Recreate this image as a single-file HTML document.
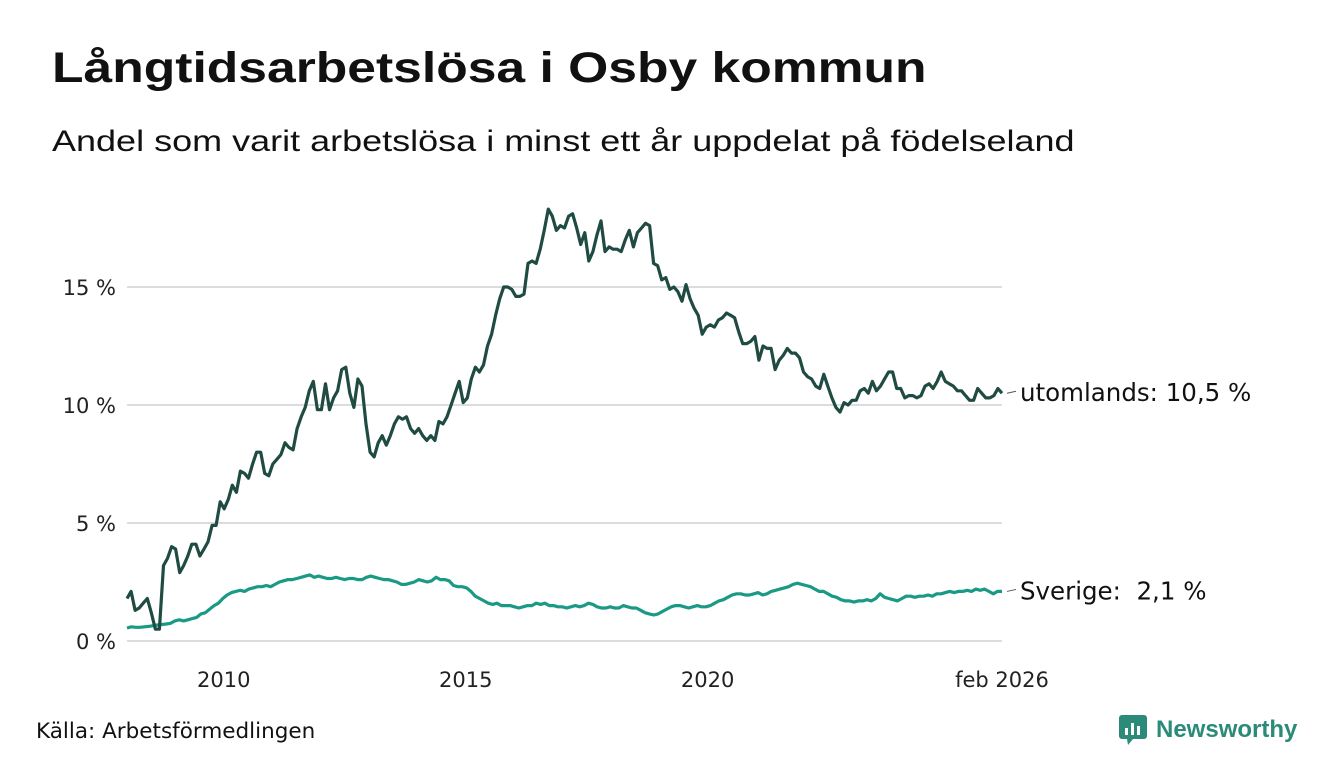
<!DOCTYPE html>
<html><head><meta charset="utf-8"><style>
body{margin:0;background:#fff;font-family:"Liberation Sans","DejaVu Sans",sans-serif;}
#wrap{position:relative;width:1340px;height:780px;overflow:hidden;}
h1{position:absolute;left:52px;top:44px;margin:0;font-size:43px;font-weight:bold;color:#111;transform:scaleX(1.2);transform-origin:left top;white-space:nowrap;}
.sub{position:absolute;left:52px;top:125px;font-size:30px;color:#111;transform:scaleX(1.2);transform-origin:left top;white-space:nowrap;}
.src{position:absolute;left:36px;top:719px;font-size:21.5px;color:#111;font-family:"DejaVu Sans",sans-serif;}
.logo{position:absolute;left:1118px;top:714px;display:flex;align-items:center;}
.logo span{font-size:24px;font-weight:bold;color:#2b8a78;margin-left:8px;}
svg text{font-family:"DejaVu Sans",sans-serif;}
</style></head><body>
<div id="wrap">
<h1>Långtidsarbetslösa i Osby kommun</h1>
<div class="sub">Andel som varit arbetslösa i minst ett år uppdelat på födelseland</div>
<svg id="chart" width="1340" height="780" style="position:absolute;left:0;top:0"></svg>
<div class="src">Källa: Arbetsförmedlingen</div>
<div class="logo">
<svg width="30" height="32" viewBox="0 0 30 32"><rect x="1" y="1" width="28" height="24" rx="3" fill="#2b8a78"/><polygon points="9,25 15,25 10,31" fill="#2b8a78"/><rect x="7" y="14" width="3" height="7" fill="#fff"/><rect x="13" y="9" width="3" height="12" fill="#fff"/><rect x="19" y="12" width="3" height="9" fill="#fff"/></svg>
<span>Newsworthy</span></div>
</div>
<script>
const yTicks=[0,5,10,15];
const xTickYears=[2010,2015,2020];
const xTickLabels=["2010","2015","2020"];
const startYear=2008.0, endYear=2026.083;
const utomlands=[1.8,2.1,1.3,1.4,1.6,1.8,1.2,0.5,0.5,3.2,3.5,4.0,3.9,2.9,3.2,3.6,4.1,4.1,3.6,3.9,4.2,4.9,4.9,5.9,5.6,6.0,6.6,6.3,7.2,7.1,6.9,7.5,8.0,8.0,7.1,7.0,7.5,7.7,7.9,8.4,8.2,8.1,9.0,9.5,9.9,10.6,11.0,9.8,9.8,10.9,9.8,10.3,10.6,11.5,11.6,10.5,9.9,11.1,10.8,9.2,8.0,7.8,8.4,8.7,8.3,8.7,9.2,9.5,9.4,9.5,9.0,8.8,9.0,8.7,8.5,8.7,8.5,9.3,9.2,9.5,10.0,10.5,11.0,10.1,10.3,11.1,11.6,11.4,11.7,12.5,13.0,13.8,14.5,15.0,15.0,14.9,14.6,14.6,14.7,16.0,16.1,16.0,16.6,17.4,18.3,18.0,17.4,17.6,17.5,18.0,18.1,17.5,16.8,17.3,16.1,16.5,17.2,17.8,16.5,16.7,16.6,16.6,16.5,17.0,17.4,16.7,17.3,17.5,17.7,17.6,16.0,15.9,15.3,15.4,14.9,15.0,14.8,14.4,15.1,14.5,14.1,13.8,13.0,13.3,13.4,13.3,13.6,13.7,13.9,13.8,13.7,13.1,12.6,12.6,12.7,12.9,11.9,12.5,12.4,12.4,11.5,11.9,12.1,12.4,12.2,12.2,12.0,11.4,11.2,11.1,10.8,10.7,11.3,10.8,10.3,9.9,9.7,10.1,10.0,10.2,10.2,10.6,10.7,10.5,11.0,10.6,10.8,11.1,11.4,11.4,10.7,10.7,10.3,10.4,10.4,10.3,10.4,10.8,10.9,10.7,11.0,11.4,11.0,10.9,10.8,10.6,10.6,10.4,10.2,10.2,10.7,10.5,10.3,10.3,10.4,10.7,10.5];
const sverige=[0.55,0.6,0.58,0.58,0.6,0.62,0.65,0.68,0.7,0.72,0.75,0.85,0.9,0.85,0.9,0.95,1.0,1.15,1.2,1.35,1.5,1.6,1.8,1.95,2.05,2.1,2.15,2.1,2.2,2.25,2.3,2.3,2.35,2.3,2.4,2.5,2.55,2.6,2.6,2.65,2.7,2.75,2.8,2.7,2.75,2.7,2.65,2.65,2.7,2.65,2.6,2.65,2.65,2.6,2.6,2.7,2.75,2.7,2.65,2.6,2.6,2.55,2.5,2.4,2.4,2.45,2.5,2.6,2.55,2.5,2.55,2.7,2.6,2.6,2.55,2.35,2.3,2.3,2.25,2.1,1.9,1.8,1.7,1.6,1.55,1.6,1.5,1.5,1.5,1.45,1.4,1.45,1.5,1.5,1.6,1.55,1.6,1.5,1.5,1.45,1.45,1.4,1.45,1.5,1.45,1.5,1.6,1.55,1.45,1.4,1.4,1.45,1.4,1.4,1.5,1.45,1.4,1.4,1.3,1.2,1.15,1.1,1.15,1.25,1.35,1.45,1.5,1.5,1.45,1.4,1.45,1.5,1.45,1.45,1.5,1.6,1.7,1.75,1.85,1.95,2.0,2.0,1.95,1.95,2.0,2.05,1.95,2.0,2.1,2.15,2.2,2.25,2.3,2.4,2.45,2.4,2.35,2.3,2.2,2.1,2.1,2.0,1.9,1.85,1.75,1.7,1.7,1.65,1.7,1.7,1.75,1.7,1.8,2.0,1.85,1.8,1.75,1.7,1.8,1.9,1.9,1.85,1.9,1.9,1.95,1.9,2.0,2.0,2.05,2.1,2.05,2.1,2.1,2.15,2.1,2.2,2.15,2.2,2.1,2.0,2.1,2.1];
const labels=["utomlands: 10,5 %","Sverige:\u00a0 2,1 %"];
const NS="http://www.w3.org/2000/svg";
const svg=document.getElementById('chart');
const X0=127,X1=1002;
const xs=yr=>X0+(yr-startYear)/(endYear-startYear)*(X1-X0);
const ys=v=>641-v*23.6;
function mk(t,a){const e=document.createElementNS(NS,t);for(const k in a)e.setAttribute(k,a[k]);svg.appendChild(e);return e;}
yTicks.forEach(t=>{
  const g=mk('line',{x1:127,x2:1002,y1:ys(t),y2:ys(t),stroke:'#dcdce0','stroke-width':2});
  
  
  const tx=mk('text',{x:116,y:ys(t)+8,'text-anchor':'end','font-size':21,fill:'#222'});
  tx.textContent=t+' %';
  
  
});
xTickYears.forEach((y,i)=>{
  const tx=mk('text',{x:xs(y),y:687,'text-anchor':'middle','font-size':21,fill:'#222'});
  tx.textContent=xTickLabels[i];
  
  
});
const lt=mk('text',{x:xs(endYear),y:687,'text-anchor':'middle','font-size':21,fill:'#222'});
lt.textContent='feb 2026';


function series(arr,color,name,label){
  const n=arr.length;
  const pts=arr.map((v,i)=>xs(startYear+i/(n-1)*(endYear-startYear)).toFixed(1)+','+ys(v).toFixed(1)).join(' ');
  const p=mk('polyline',{points:pts,fill:'none',stroke:color,'stroke-width':3.2,'stroke-linejoin':'round'});
  
  
  const ly=ys(arr[n-1]);
  const d=mk('line',{x1:1007,x2:1016,y1:ly,y2:ly-2,stroke:'#555','stroke-width':1});
  
  
  const t=mk('text',{x:1020,y:ly+8,'font-size':24.5,fill:'#111'});
  t.textContent=label;
  
  
}
series(sverige,'#1a9a85','sverige',labels[1]);
series(utomlands,'#1f4b43','utomlands',labels[0]);
</script>
</body></html>
